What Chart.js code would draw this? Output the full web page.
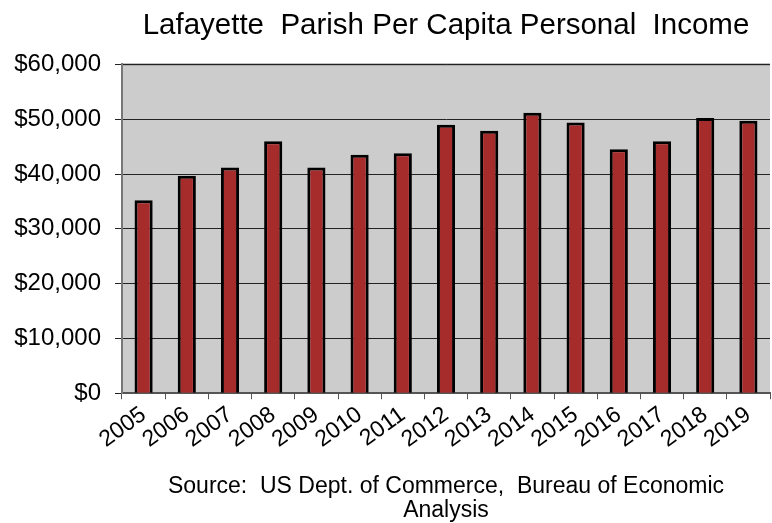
<!DOCTYPE html>
<html>
<head>
<meta charset="utf-8">
<script src="https://cdn.jsdelivr.net/npm/chart.js@4/dist/chart.umd.min.js"></script>
<style>
  html, body { margin: 0; padding: 0; background: #fff; }
  #wrap { width: 772px; height: 523px; }
</style>
</head>
<body>
<div id="wrap"><canvas id="incomeChart"></canvas></div>
<script>
// data
var years = ['2005', '2006', '2007', '2008', '2009', '2010', '2011', '2012',
             '2013', '2014', '2015', '2016', '2017', '2018', '2019'];
var income = [35200, 39700, 41200, 46000, 41200, 43500, 43800, 49000,
              47900, 51200, 49400, 44500, 46000, 50200, 49700];
var yTicks = [0, 10000, 20000, 30000, 40000, 50000, 60000];

var titleText = 'Lafayette  Parish Per Capita Personal  Income';
var sourceText = ['Source:  US Dept. of Commerce,  Bureau of Economic', 'Analysis'];

// grey plot background + top edge
var plotBg = {
  id: 'plotBg',
  beforeDraw: function (chart) {
    var a = chart.chartArea, ctx = chart.ctx;
    ctx.save();
    ctx.fillStyle = '#cccccc';
    ctx.fillRect(a.left, a.top, a.right - a.left, a.bottom - a.top);
    ctx.strokeStyle = '#888888';
    ctx.lineWidth = 2;
    ctx.beginPath();
    ctx.moveTo(a.left, a.top);
    ctx.lineTo(a.right, a.top);
    ctx.stroke();
    ctx.restore();
  }
};

Chart.defaults.font.family = '"Liberation Sans", Arial, sans-serif';
Chart.defaults.color = '#000';

new Chart(document.getElementById('incomeChart'), {
  type: 'bar',
  data: {
    labels: years,
    datasets: [{
      label: 'Per Capita Personal Income',
      data: income,
      backgroundColor: '#a62b2b',
      borderColor: '#000',
      borderWidth: 3,
      borderSkipped: 'bottom',
      barPercentage: 0.42,
      categoryPercentage: 1
    }]
  },
  options: {
    responsive: true,
    maintainAspectRatio: false,
    animation: false,
    layout: { padding: { left: 6, right: 2, top: 0, bottom: 0 } },
    plugins: {
      legend: { display: false },
      tooltip: { enabled: false },
      title: {
        display: true,
        text: titleText,
        fullSize: false,
        font: { size: 29.5, weight: 'normal', lineHeight: 1.2 },
        color: '#000',
        padding: { top: 8, bottom: 21 }
      },
      subtitle: {
        display: true,
        text: sourceText,
        position: 'bottom',
        fullSize: false,
        font: { size: 23, weight: 'normal', lineHeight: 1.06 },
        color: '#000',
        padding: { top: 9, bottom: 0 }
      }
    },
    scales: {
      x: {
        offset: true,
        afterFit: function (axis) {
          axis.height = 72;
        },
        grid: {
          offset: true,
          drawOnChartArea: false,
          drawTicks: true,
          tickLength: 6,
          color: '#555'
        },
        border: { color: '#555', width: 2 },
        ticks: {
          autoSkip: false,
          minRotation: 36,
          maxRotation: 36,
          padding: 2,
          font: { size: 23 },
          color: '#000'
        }
      },
      y: {
        min: 0,
        max: 60000,
        afterBuildTicks: function (axis) {
          axis.ticks = yTicks.map(function (v) { return { value: v }; });
        },
        afterFit: function (axis) {
          axis.width = 116;
        },
        grid: {
          color: '#222',
          lineWidth: 1,
          tickLength: 7,
          drawTicks: true
        },
        border: { color: '#777', width: 2 },
        ticks: {
          padding: 14,
          font: { size: 24 },
          color: '#000',
          callback: function (v) { return '$' + v.toLocaleString('en-US'); }
        }
      }
    }
  },
  plugins: [plotBg]
});
</script>
</body>
</html>
